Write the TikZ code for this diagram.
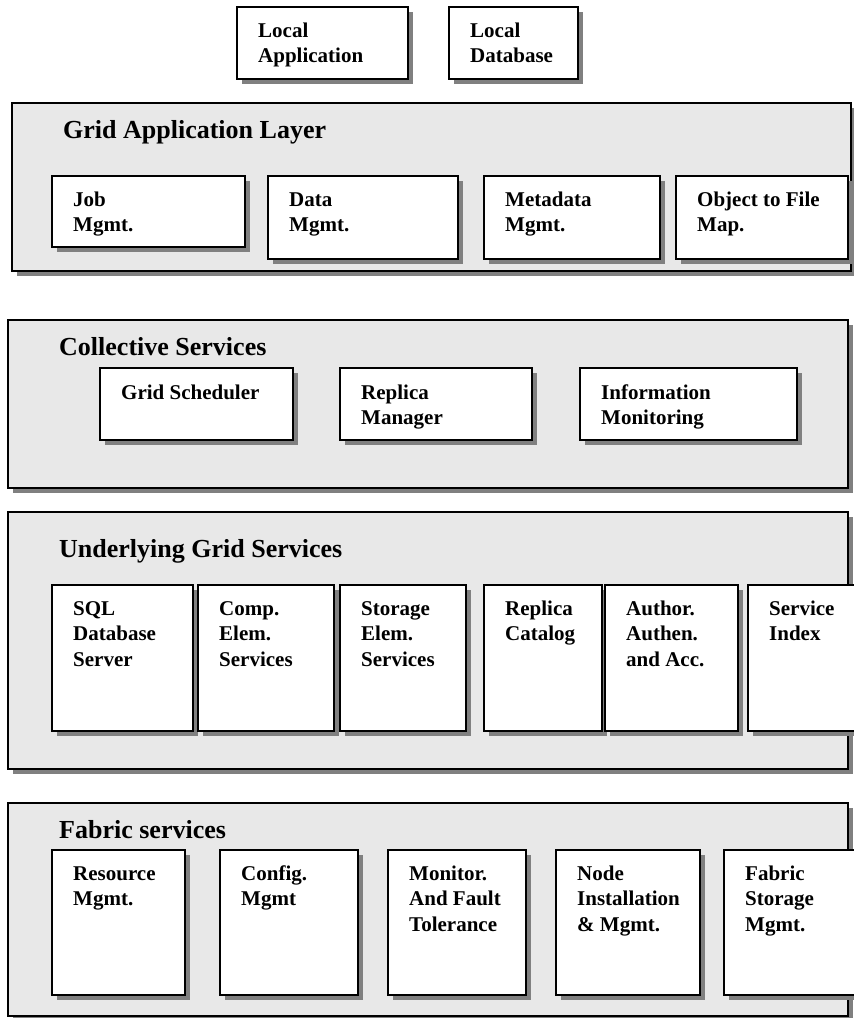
\documentclass[tikz,border=0pt]{standalone}
\usepackage{fontspec}
\setmainfont{Liberation Serif}
\usetikzlibrary{shadows}
\definecolor{panelgray}{RGB}{232,232,232}
\definecolor{shadowgray}{RGB}{128,128,128}
\newcommand\lbltext[1]{\parbox[t]{7cm}{#1}}
\tikzset{
  shade5/.style={drop shadow={shadow xshift=5pt, shadow yshift=-5pt, fill=shadowgray, opacity=1}},
  layer/.style={draw=black, line width=1.4pt, fill=panelgray, shade5, anchor=north west, inner sep=0pt, outer sep=0pt},
  unit/.style={draw=black, line width=1.4pt, fill=white, shade5, anchor=north west, inner sep=0pt, outer sep=0pt},
  layertitle/.style={anchor=base west, inner sep=0pt, font=\bfseries\fontsize{26}{30}\selectfont},
  unitlabel/.style={anchor=base west, inner sep=0pt, font=\bfseries\fontsize{21}{25.8}\selectfont},
}
\begin{document}
\begin{tikzpicture}[x=1pt, y=-1pt]
\useasboundingbox (0,0) rectangle (854,1018);
\fill[white] (0,0) rectangle (854,1018);
\clip (0,0) rectangle (854,1018);

% local components
\node[unit, minimum width=171pt, minimum height=72pt] (lapp) at (237,7) {};
\node[unitlabel] (lapp-l) at ([shift={(21pt,-30pt)}]lapp.north west) {\lbltext{Local\\Application}};
\node[unit, minimum width=129pt, minimum height=72pt] (ldb) at (449,7) {};
\node[unitlabel] (ldb-l) at ([shift={(21pt,-30pt)}]ldb.north west) {\lbltext{Local\\Database}};

% grid application layer
\node[layer, minimum width=839pt, minimum height=168pt] (gal) at (12,103) {};
\node[layertitle] (gal-t) at ([shift={(51pt,-35pt)}]gal.north west) {Grid Application Layer};
\node[unit, minimum width=193pt, minimum height=71pt] (job) at (52,176) {};
\node[unitlabel] (job-l) at ([shift={(21pt,-30pt)}]job.north west) {\lbltext{Job\\Mgmt.}};
\node[unit, minimum width=190pt, minimum height=83pt] (data) at (268,176) {};
\node[unitlabel] (data-l) at ([shift={(21pt,-30pt)}]data.north west) {\lbltext{Data\\Mgmt.}};
\node[unit, minimum width=176pt, minimum height=83pt] (meta) at (484,176) {};
\node[unitlabel] (meta-l) at ([shift={(21pt,-30pt)}]meta.north west) {\lbltext{Metadata\\Mgmt.}};
\node[unit, minimum width=172pt, minimum height=83pt] (ofm) at (676,176) {};
\node[unitlabel] (ofm-l) at ([shift={(21pt,-30pt)}]ofm.north west) {\lbltext{Object to File\\Map.}};

% collective services
\node[layer, minimum width=840pt, minimum height=168pt] (coll) at (8,320) {};
\node[layertitle] (coll-t) at ([shift={(51pt,-35pt)}]coll.north west) {Collective Services};
\node[unit, minimum width=193pt, minimum height=72pt] (gsch) at (100,368) {};
\node[unitlabel] (gsch-l) at ([shift={(21pt,-31pt)}]gsch.north west) {\lbltext{Grid Scheduler}};
\node[unit, minimum width=192pt, minimum height=72pt] (rman) at (340,368) {};
\node[unitlabel] (rman-l) at ([shift={(21pt,-31pt)}]rman.north west) {\lbltext{Replica\\Manager}};
\node[unit, minimum width=217pt, minimum height=72pt] (imon) at (580,368) {};
\node[unitlabel] (imon-l) at ([shift={(21pt,-31pt)}]imon.north west) {\lbltext{Information\\Monitoring}};

% underlying grid services
\node[layer, minimum width=840pt, minimum height=257pt] (ugs) at (8,512) {};
\node[layertitle] (ugs-t) at ([shift={(51pt,-45pt)}]ugs.north west) {Underlying Grid Services};
\node[unit, minimum width=141pt, minimum height=146pt] (sql) at (52,585) {};
\node[unitlabel] (sql-l) at ([shift={(21pt,-30pt)}]sql.north west) {\lbltext{SQL\\Database\\Server}};
\node[unit, minimum width=136pt, minimum height=146pt] (ces) at (198,585) {};
\node[unitlabel] (ces-l) at ([shift={(21pt,-30pt)}]ces.north west) {\lbltext{Comp.\\Elem.\\Services}};
\node[unit, minimum width=126pt, minimum height=146pt] (ses) at (340,585) {};
\node[unitlabel] (ses-l) at ([shift={(21pt,-30pt)}]ses.north west) {\lbltext{Storage\\Elem.\\Services}};
\node[unit, minimum width=118pt, minimum height=146pt] (rcat) at (484,585) {};
\node[unitlabel] (rcat-l) at ([shift={(21pt,-30pt)}]rcat.north west) {\lbltext{Replica\\Catalog}};
\node[unit, minimum width=133pt, minimum height=146pt] (aaa) at (605,585) {};
\node[unitlabel] (aaa-l) at ([shift={(21pt,-30pt)}]aaa.north west) {\lbltext{Author.\\Authen.\\and Acc.}};
\node[unit, minimum width=130pt, minimum height=146pt] (sidx) at (748,585) {};
\node[unitlabel] (sidx-l) at ([shift={(21pt,-30pt)}]sidx.north west) {\lbltext{Service\\Index}};

% fabric services
\node[layer, minimum width=840pt, minimum height=213pt] (fab) at (8,803) {};
\node[layertitle] (fab-t) at ([shift={(51pt,-35pt)}]fab.north west) {Fabric services};
\node[unit, minimum width=133pt, minimum height=145pt] (rmg) at (52,850) {};
\node[unitlabel] (rmg-l) at ([shift={(21pt,-30pt)}]rmg.north west) {\lbltext{Resource\\Mgmt.}};
\node[unit, minimum width=138pt, minimum height=145pt] (cfg) at (220,850) {};
\node[unitlabel] (cfg-l) at ([shift={(21pt,-30pt)}]cfg.north west) {\lbltext{Config.\\Mgmt}};
\node[unit, minimum width=138pt, minimum height=145pt] (mft) at (388,850) {};
\node[unitlabel] (mft-l) at ([shift={(21pt,-30pt)}]mft.north west) {\lbltext{Monitor.\\And Fault\\Tolerance}};
\node[unit, minimum width=144pt, minimum height=145pt] (nim) at (556,850) {};
\node[unitlabel] (nim-l) at ([shift={(21pt,-30pt)}]nim.north west) {\lbltext{Node\\Installation\\\& Mgmt.}};
\node[unit, minimum width=140pt, minimum height=145pt] (fsm) at (724,850) {};
\node[unitlabel] (fsm-l) at ([shift={(21pt,-30pt)}]fsm.north west) {\lbltext{Fabric\\Storage\\Mgmt.}};
\end{tikzpicture}
\end{document}
